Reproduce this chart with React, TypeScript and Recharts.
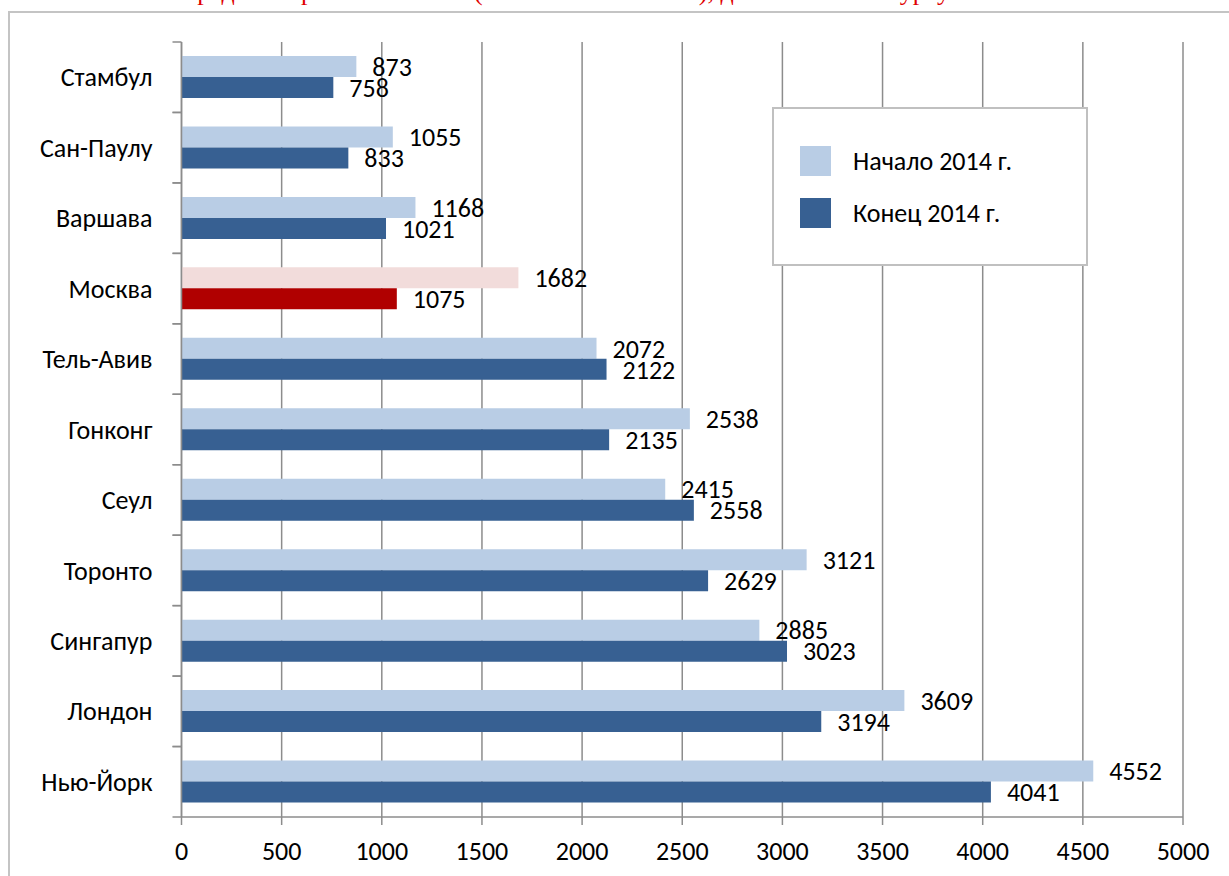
import { Bar, BarChart, CartesianGrid, Cell, LabelList, Legend, XAxis, YAxis } from 'recharts'

const cities = [
  'Стамбул',
  'Сан-Паулу',
  'Варшава',
  'Москва',
  'Тель-Авив',
  'Гонконг',
  'Сеул',
  'Торонто',
  'Сингапур',
  'Лондон',
  'Нью-Йорк',
]
const start2014 = [873, 1055, 1168, 1682, 2072, 2538, 2415, 3121, 2885, 3609, 4552]
const end2014 = [758, 833, 1021, 1075, 2122, 2135, 2558, 2629, 3023, 3194, 4041]
const xTicks = [0, 500, 1000, 1500, 2000, 2500, 3000, 3500, 4000, 4500, 5000]
const seriesOrder = ['start', 'end']

const data = cities.map((city, i) => ({ city, start: start2014[i], end: end2014[i] }))

const FONT = "Carlito, 'Open Sans', sans-serif"
const FS = 26
const LIGHT = '#b9cde5'
const DARK = '#376092'
const MOS_LIGHT = '#f2dcdb'
const MOS_DARK = '#b00000'
const GRID = '#8c8c8c'

// подписи городов + засечки на границах категорий (как в Excel)
function CityTick(props: any) {
  const { x, y, payload } = props
  const half = payload?.offset || 35.25
  const ax = x + 20
  return (
    <g>
      <line x1={ax} x2={ax + 9} y1={y - half} y2={y - half} stroke={GRID} strokeWidth={1.5} />
      <line x1={ax} x2={ax + 9} y1={y + half} y2={y + half} stroke={GRID} strokeWidth={1.5} />
      <text x={x} y={y} dy="0.35em" textAnchor="end" fontSize={FS} fill="#000" fontFamily={FONT}>
        {payload.value}
      </text>
    </g>
  )
}

function LegendBox(props: any) {
  const items = [...(props.payload || [])].sort(
    (a: any, b: any) => seriesOrder.indexOf(a.dataKey) - seriesOrder.indexOf(b.dataKey),
  )
  return (
    <div
      style={{
        width: 316,
        height: 159,
        boxSizing: 'border-box',
        border: '2px solid #c0c0c0',
        background: '#fff',
        position: 'relative',
        fontFamily: FONT,
        fontSize: FS,
      }}
    >
      {items.map((it: any, i: number) => (
        <div
          key={i}
          style={{ position: 'absolute', left: 26, top: 37 + i * 52, height: 30, display: 'flex', alignItems: 'center' }}
        >
          <span style={{ width: 31, height: 30, background: it.color, display: 'inline-block' }} />
          <span style={{ marginLeft: 22, color: '#000', whiteSpace: 'nowrap' }}>{it.value}</span>
        </div>
      ))}
    </div>
  )
}

export default function App() {
  return (
    <div style={{ position: 'absolute', left: 0, top: 0, width: 1229, height: 876, overflow: 'hidden', background: '#fff' }}>
      <div
        style={{
          position: 'absolute',
          left: 180,
          top: -21,
          lineHeight: '26px',
          fontSize: 26,
          fontFamily: "'Liberation Serif', serif",
          color: '#e00000',
          whiteSpace: 'nowrap',
        }}
      >
        Средняя заработная плата (за вычетом налогов), долл. США по курсу
      </div>
      <div
        style={{
          position: 'absolute',
          left: 8,
          top: 11,
          width: 1400,
          height: 1000,
          border: '2px solid #c4c4c4',
        }}
      />
      <div style={{ position: 'absolute', left: 0, top: 0 }}>
        <BarChart
          width={1229}
          height={876}
          data={data}
          layout="vertical"
          barSize={21}
          barGap={0}
          margin={{ top: 42, right: 46, bottom: 8, left: 0 }}
        >
          <CartesianGrid horizontal={false} stroke={GRID} strokeWidth={1.5} />
          <XAxis
            type="number"
            domain={[0, 5000]}
            ticks={xTicks}
            interval={0}
            height={51}
            tickSize={8}
            tickMargin={17}
            axisLine={{ stroke: GRID, strokeWidth: 1.5 }}
            tickLine={{ stroke: GRID, strokeWidth: 1.5 }}
            tick={{ fontSize: FS, fill: '#000', fontFamily: FONT }}
          />
          <YAxis
            type="category"
            dataKey="city"
            width={181.5}
            interval={0}
            tickSize={9}
            tickMargin={20}
            tickLine={false}
            axisLine={{ stroke: GRID, strokeWidth: 1.5 }}
            tick={<CityTick />}
          />
          <Legend
            layout="vertical"
            align="center"
            verticalAlign="middle"
            wrapperStyle={{ left: 772, top: 107, width: 316, height: 159 }}
            content={<LegendBox />}
          />
          <Bar dataKey="start" name="Начало 2014 г." fill={LIGHT} isAnimationActive={false}>
            {data.map((d, i) => (
              <Cell key={i} fill={d.city === 'Москва' ? MOS_LIGHT : LIGHT} />
            ))}
            <LabelList dataKey="start" position="right" offset={16} fontSize={FS} fill="#000" fontFamily={FONT} />
          </Bar>
          <Bar dataKey="end" name="Конец 2014 г." fill={DARK} isAnimationActive={false}>
            {data.map((d, i) => (
              <Cell key={i} fill={d.city === 'Москва' ? MOS_DARK : DARK} />
            ))}
            <LabelList dataKey="end" position="right" offset={16} fontSize={FS} fill="#000" fontFamily={FONT} />
          </Bar>
        </BarChart>
      </div>
    </div>
  )
}
